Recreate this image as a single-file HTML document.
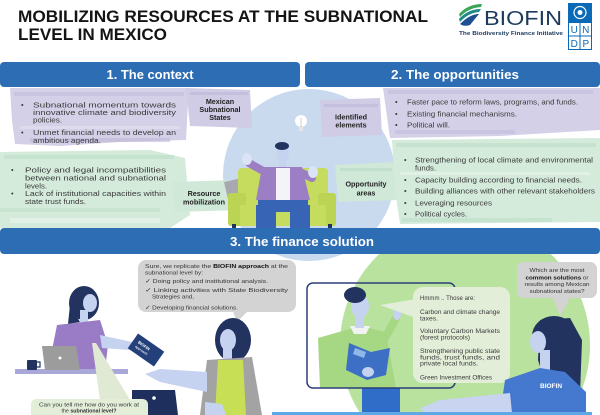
<!DOCTYPE html>
<html><head><meta charset="utf-8"><style>
html,body{margin:0;padding:0;background:#fff;width:600px;height:415px;overflow:hidden;}
svg{display:block;overflow:hidden;}
text{font-family:"Liberation Sans",sans-serif;}
</style></head><body>
<svg width="600" height="415" viewBox="0 0 600 415" xmlns="http://www.w3.org/2000/svg">
<rect width="600" height="415" fill="#fff"/>

<!-- Title -->
<text x="18" y="22" font-size="16.5" font-weight="bold" fill="#141414" textLength="410" lengthAdjust="spacingAndGlyphs">MOBILIZING RESOURCES AT THE SUBNATIONAL</text>
<text x="18" y="40" font-size="16.5" font-weight="bold" fill="#141414" textLength="149" lengthAdjust="spacingAndGlyphs">LEVEL IN MEXICO</text>

<!-- BIOFIN logo -->
<path d="M459 14 Q468 4 482 4 L481 7 Q468 8 460 17 Z" fill="#3aa655"/>
<path d="M459 19 Q468 9 481 9 L479 12 Q468 13 460 22 Z" fill="#1f8a8a"/>
<path d="M460 24 Q470 14 479 14 Q474 20 470 25 Q464 27 460 24 Z" fill="#1d4f93"/>
<text x="484" y="25" font-size="20" fill="#1d3b5c" textLength="78" lengthAdjust="spacingAndGlyphs">BIOFIN</text>
<text x="459" y="35" font-size="5.5" font-weight="bold" fill="#1d3b5c" textLength="104" lengthAdjust="spacingAndGlyphs">The Biodiversity Finance Initiative</text>
<!-- UNDP -->
<rect x="568" y="3" width="24" height="19" fill="#0a6ab8"/>
<circle cx="580" cy="12.5" r="6" fill="none" stroke="#fff" stroke-width="1.2"/>
<circle cx="580" cy="12.5" r="2.5" fill="#fff"/>
<rect x="568.5" y="22.5" width="23" height="27" fill="#fff" stroke="#0a6ab8" stroke-width="1"/>
<line x1="580" y1="22.5" x2="580" y2="49.5" stroke="#0a6ab8" stroke-width="1"/>
<line x1="568.5" y1="36" x2="591.5" y2="36" stroke="#0a6ab8" stroke-width="1"/>
<text x="574.2" y="33" font-size="10" fill="#0a6ab8" text-anchor="middle">U</text>
<text x="585.8" y="33" font-size="10" fill="#0a6ab8" text-anchor="middle">N</text>
<text x="574.2" y="47" font-size="10" fill="#0a6ab8" text-anchor="middle">D</text>
<text x="585.8" y="47" font-size="10" fill="#0a6ab8" text-anchor="middle">P</text>

<!-- Section 1/2 background circle -->
<circle cx="309" cy="175" r="86" fill="#c9daee"/>

<!-- Lavender / green brushed boxes -->
<g>
<polygon points="10,88 190,88 188,102 186,140 120,142 60,146 15,144 12,120" fill="#d4d0e7"/>
<rect x="14" y="92" width="170" height="4" fill="#c2bcdc" opacity="0.6"/>
<rect x="20" y="126" width="160" height="3" fill="#e3e0f0" opacity="0.7"/>
<rect x="30" y="138" width="140" height="4" fill="#bfb8d9" opacity="0.6"/>

<polygon points="186,88 250,90 252,128 190,126" fill="#d1cce5"/>
<rect x="190" y="92" width="58" height="3" fill="#bdb6d8" opacity="0.6"/>

<polygon points="0,152 150,150 185,158 190,215 170,228 0,228" fill="#d4ebdb"/>
<rect x="4" y="155" width="170" height="4" fill="#c0dfca" opacity="0.7"/>
<rect x="0" y="208" width="160" height="4" fill="#c0dfca" opacity="0.6"/>
<rect x="10" y="218" width="150" height="5" fill="#e3f2e8" opacity="0.8"/>

<polygon points="172,182 236,180 240,210 175,212" fill="#cfe8d7"/>

<polygon points="320,100 380,98 382,135 322,137" fill="#d1cce5"/>
<rect x="324" y="104" width="54" height="3" fill="#bdb6d8" opacity="0.6"/>

<polygon points="383,88 600,88 600,130 500,136 390,138" fill="#d4d0e7"/>
<rect x="388" y="90" width="205" height="4" fill="#c2bcdc" opacity="0.6"/>
<rect x="395" y="130" width="120" height="4" fill="#c2bcdc" opacity="0.6"/>

<polygon points="335,165 395,162 398,200 338,202" fill="#cfe8d7"/>
<rect x="340" y="168" width="52" height="3" fill="#bcdcc6" opacity="0.7"/>

<polygon points="392,140 600,138 600,222 400,224 395,190" fill="#d4ebdb"/>
<rect x="396" y="143" width="200" height="4" fill="#c0dfca" opacity="0.7"/>
<rect x="400" y="172" width="190" height="3" fill="#e3f2e8" opacity="0.8"/>
<rect x="402" y="218" width="150" height="4" fill="#c0dfca" opacity="0.7"/>
</g>

<!-- Central figure -->
<g>
<circle cx="301" cy="121" r="6" fill="#fff"/>
<rect x="299" y="126" width="4" height="5" fill="#e6e6e6"/>
<line x1="301" y1="118" x2="301" y2="127" stroke="#bbb" stroke-width="0.7"/>
<polygon points="224,182 242,178 246,196 228,199" fill="#a8a8b0"/>
<rect x="238" y="168" width="90" height="38" rx="4" fill="#c6dc5f"/>
<rect x="228" y="193" width="18" height="33" rx="3" fill="#bcd454"/>
<rect x="318" y="193" width="18" height="33" rx="3" fill="#bcd454"/>
<rect x="240" y="205" width="86" height="21" fill="#c6dc5f"/>
<rect x="232" y="224" width="4" height="4" fill="#22335f"/>
<rect x="328" y="224" width="4" height="4" fill="#22335f"/>
<rect x="258" y="195" width="50" height="17" fill="#3764b4"/>
<rect x="256" y="205" width="20" height="23" fill="#3764b4"/>
<rect x="290" y="205" width="20" height="23" fill="#3764b4"/>
<polygon points="262,167 302,167 310,200 256,200" fill="#9b7ec4"/>
<line x1="265" y1="172" x2="249" y2="163" stroke="#9b7ec4" stroke-width="8" stroke-linecap="round"/>
<line x1="300" y1="172" x2="312" y2="178" stroke="#9b7ec4" stroke-width="8" stroke-linecap="round"/>
<rect x="276" y="168" width="14" height="32" fill="#f4f4f8"/>
<ellipse cx="247" cy="159" rx="5" ry="6" fill="#dbe3f6"/>
<ellipse cx="313" cy="172" rx="5" ry="6" fill="#dbe3f6"/>
<rect x="279" y="158" width="7" height="9" fill="#c5d3f0"/>
<ellipse cx="283" cy="154" rx="6" ry="8" fill="#c5d3f0"/>
<ellipse cx="282" cy="146" rx="7" ry="4" fill="#22335f"/>
</g>

<!-- Context text -->
<g font-size="7.4" fill="#3a3a3a">
<text x="21" y="107.5">•</text>
<text x="33" y="107.5" textLength="143" lengthAdjust="spacingAndGlyphs">Subnational momentum towards</text>
<text x="33" y="115" textLength="143" lengthAdjust="spacingAndGlyphs">innovative climate and biodiversity</text>
<text x="33" y="122.5" textLength="29" lengthAdjust="spacingAndGlyphs">policies.</text>
<text x="21" y="135">•</text>
<text x="33" y="135" textLength="143" lengthAdjust="spacingAndGlyphs">Unmet financial needs to develop an</text>
<text x="33" y="143" textLength="68" lengthAdjust="spacingAndGlyphs">ambitious agenda.</text>

<text x="11" y="172.5">•</text>
<text x="25" y="172.5" textLength="141" lengthAdjust="spacingAndGlyphs">Policy and legal incompatibilities</text>
<text x="25" y="180.5" textLength="141" lengthAdjust="spacingAndGlyphs">between national and subnational</text>
<text x="25" y="188.5" textLength="22" lengthAdjust="spacingAndGlyphs">levels.</text>
<text x="11" y="196">•</text>
<text x="25" y="196" textLength="141" lengthAdjust="spacingAndGlyphs">Lack of institutional capacities within</text>
<text x="25" y="204" textLength="61" lengthAdjust="spacingAndGlyphs">state trust funds.</text>

<text x="395" y="104.5">•</text>
<text x="407" y="104.5" textLength="171" lengthAdjust="spacingAndGlyphs">Faster pace to reform laws, programs, and funds.</text>
<text x="395" y="116.5">•</text>
<text x="407" y="116.5" textLength="110" lengthAdjust="spacingAndGlyphs">Existing financial mechanisms.</text>
<text x="395" y="127.5">•</text>
<text x="407" y="127.5" textLength="43" lengthAdjust="spacingAndGlyphs">Political will.</text>

<text x="404" y="162.5">•</text>
<text x="415" y="162.5" textLength="178" lengthAdjust="spacingAndGlyphs">Strengthening of local climate and environmental</text>
<text x="415" y="170.5" textLength="21" lengthAdjust="spacingAndGlyphs">funds.</text>
<text x="404" y="182.5">•</text>
<text x="415" y="182.5" textLength="167" lengthAdjust="spacingAndGlyphs">Capacity building according to financial needs.</text>
<text x="404" y="193.5">•</text>
<text x="415" y="193.5" textLength="180" lengthAdjust="spacingAndGlyphs">Building alliances with other relevant stakeholders</text>
<text x="404" y="205.5">•</text>
<text x="415" y="205.5" textLength="77" lengthAdjust="spacingAndGlyphs">Leveraging resources</text>
<text x="404" y="216.5">•</text>
<text x="415" y="216.5" textLength="52" lengthAdjust="spacingAndGlyphs">Political cycles.</text>
</g>
<g font-size="7.2" font-weight="bold" fill="#222" text-anchor="middle">
<text x="220" y="104">Mexican</text>
<text x="220" y="112">Subnational</text>
<text x="220" y="120">States</text>
<text x="204" y="196">Resource</text>
<text x="204" y="204.5">mobilization</text>
<text x="351" y="119.5">Identified</text>
<text x="351" y="127.5">elements</text>
<text x="366" y="186.5">Opportunity</text>
<text x="366" y="195.5">areas</text>
</g>

<!-- Header bars -->
<rect x="0" y="62" width="300" height="25" rx="4" fill="#2d6db4"/>
<rect x="305" y="62" width="295" height="25" rx="4" fill="#2d6db4"/>
<text x="150" y="79" font-size="12.5" font-weight="bold" fill="#fff" text-anchor="middle" textLength="87" lengthAdjust="spacingAndGlyphs">1. The context</text>
<text x="455" y="79" font-size="12.5" font-weight="bold" fill="#fff" text-anchor="middle" textLength="128" lengthAdjust="spacingAndGlyphs">2. The opportunities</text>

<!-- Section 3 bar -->
<rect x="0" y="228" width="600" height="26" rx="4" fill="#2d6db4"/>
<text x="302" y="246" font-size="12.5" font-weight="bold" fill="#fff" text-anchor="middle" textLength="144" lengthAdjust="spacingAndGlyphs">3. The finance solution</text>

<!-- Section 3: right green blob (circle segment within frame) -->
<path d="M379.3 254 A125 125 0 0 0 361.4 415 L568.6 415 A125 125 0 0 0 550.7 254 Z" fill="#b8e29d"/>
<g>
<polygon points="318,338 360,326 386,332 396,388 320,388" fill="#a6d884"/>
<polygon points="350,326 370,326 366,334 354,334" fill="#f2f2f2"/>
<rect x="355" y="312" width="9" height="16" fill="#c5d3f0"/>
<ellipse cx="360" cy="306" rx="9" ry="12" fill="#c5d3f0"/>
<ellipse cx="355" cy="295" rx="11" ry="8" fill="#22335f"/>
<line x1="384" y1="340" x2="396" y2="318" stroke="#a6d884" stroke-width="8" stroke-linecap="round"/>
<ellipse cx="397" cy="314" rx="4" ry="6" fill="#c5d3f0"/>
<polygon points="349,343 371,352 390,348 386,375 367,380 346,370" fill="#3d6fc4"/>
<polygon points="355,348 366,352 364,358 353,354" fill="#8fb7e8"/>
<ellipse cx="368" cy="372" rx="6" ry="5" fill="#c5d3f0"/>
<rect x="362" y="388" width="38" height="27" fill="#2f6dc8"/>
</g>
<rect x="307" y="283" width="148" height="105" rx="6" fill="none" stroke="#2a3f7a" stroke-width="1.5"/>

<!-- Green speech bubble -->
<polygon points="416,299 380,305 416,318" fill="#e3eed9"/>
<rect x="413" y="287" width="97" height="96" rx="10" fill="#e3eed9"/>
<g font-size="6" fill="#3a3a3a">
<text x="420" y="300" textLength="55" lengthAdjust="spacingAndGlyphs">Hmmm .. Those are:</text>
<text x="420" y="314" textLength="80" lengthAdjust="spacingAndGlyphs">Carbon and climate change</text>
<text x="420" y="320.5" textLength="18" lengthAdjust="spacingAndGlyphs">taxes.</text>
<text x="420" y="333" textLength="80" lengthAdjust="spacingAndGlyphs">Voluntary Carbon Markets</text>
<text x="420" y="339.5" textLength="50" lengthAdjust="spacingAndGlyphs">(forest protocols)</text>
<text x="420" y="352.8" textLength="80" lengthAdjust="spacingAndGlyphs">Strengthening public state</text>
<text x="420" y="359.6" textLength="80" lengthAdjust="spacingAndGlyphs">funds, trust funds, and</text>
<text x="420" y="365.5" textLength="58" lengthAdjust="spacingAndGlyphs">private local funds.</text>
<text x="420" y="379.5" textLength="72" lengthAdjust="spacingAndGlyphs">Green Investment Offices</text>
</g>

<!-- Gray bubble top right -->
<polygon points="552,296 560,316 571,296" fill="#d3d3d3"/>
<rect x="517" y="262" width="80" height="36" rx="7" fill="#d3d3d3"/>
<g font-size="5.8" fill="#333" text-anchor="middle">
<text x="557" y="272" textLength="55" lengthAdjust="spacingAndGlyphs">Which are the most</text>
<text x="557" y="279.5" textLength="63" lengthAdjust="spacingAndGlyphs"><tspan font-weight="bold" fill="#111">common solutions</tspan> or</text>
<text x="557" y="286" textLength="65" lengthAdjust="spacingAndGlyphs">results among Mexican</text>
<text x="557" y="292.8" textLength="55" lengthAdjust="spacingAndGlyphs">subnational states?</text>
</g>

<!-- Right woman -->
<g>
<polygon points="540,320 570,318 582,340 580,395 548,392 538,360" fill="#22335f"/>
<ellipse cx="554" cy="336" rx="22" ry="20" fill="#22335f"/>
<ellipse cx="538" cy="342" rx="8" ry="11" fill="#c5d3f0"/>
<rect x="540" y="350" width="10" height="20" fill="#c5d3f0"/>
<polygon points="505,380 540,368 565,372 586,392 586,415 500,415" fill="#4579d0"/>
<text x="540" y="388" font-size="6.5" font-weight="bold" fill="#fff">BIOFIN</text>
<polygon points="510,393 440,400 420,408 425,413 512,413" fill="#c8d4f0"/>
</g>
<rect x="272" y="412" width="320" height="3" fill="#5fa8e6"/>

<!-- Left scene -->
<g>
<polygon points="232,309 237,322 250,309" fill="#d3d3d3"/>
<rect x="138" y="260" width="158" height="52" rx="8" fill="#d3d3d3"/>
<g font-size="5.8" fill="#333">
<text x="145" y="268" textLength="143" lengthAdjust="spacingAndGlyphs">Sure,  we replicate the <tspan font-weight="bold" fill="#111">BIOFIN approach</tspan> at the</text>
<text x="145" y="274.5" textLength="58" lengthAdjust="spacingAndGlyphs">subnational level by:</text>
<text x="145" y="283" textLength="123" lengthAdjust="spacingAndGlyphs">✓ Doing policy and institutional analysis.</text>
<text x="145" y="292" textLength="143" lengthAdjust="spacingAndGlyphs">✓ Linking activities with State Biodiversity</text>
<text x="152" y="298.7" textLength="42" lengthAdjust="spacingAndGlyphs">Strategies and,</text>
<text x="145" y="309.7" textLength="93" lengthAdjust="spacingAndGlyphs">✓ Developing financial solutions.</text>
</g>

<ellipse cx="84" cy="303" rx="15" ry="17" fill="#22335f"/>
<polygon points="70,305 68,324 80,322" fill="#22335f"/>
<ellipse cx="90" cy="303" rx="7" ry="9" fill="#c5d3f0"/>
<rect x="80" y="310" width="8" height="12" fill="#c5d3f0"/>
<polygon points="57,325 100,320 108,345 105,370 62,371 52,350" fill="#9a7cc6"/>
<polygon points="100,335 132,342 130,350 102,348" fill="#c5d3f0"/>
<rect x="15" y="369" width="113" height="5" fill="#a9a8d8"/>
<polygon points="42,346 76,346 80,370 45,370" fill="#9c9c9c"/>
<circle cx="60" cy="358" r="1.5" fill="#fff"/>
<rect x="27" y="360" width="10" height="10" rx="1" fill="#22335f"/>
<path d="M37 362 h3 v5 h-3" fill="none" stroke="#22335f" stroke-width="1.2"/>
<g transform="rotate(35 146 350)">
<rect x="130" y="341" width="32" height="18" fill="#24407a"/>
<text x="135" y="349" font-size="4" font-weight="bold" fill="#fff">BIOFIN</text>
<text x="135" y="354" font-size="3.5" fill="#fff">approach</text>
</g>
<polygon points="132,390 175,390 178,415 132,415" fill="#1e2f5e"/>
<circle cx="154" cy="398" r="1.8" fill="#fff"/>
<polygon points="92,343 96,343 130,400 100,400" fill="#dfe9d3"/>
<path d="M31 415 V405 Q31 399 37 399 H142 Q148 399 148 405 V415 Z" fill="#e3eed9"/>
<text x="89" y="406.5" font-size="5.8" fill="#333" text-anchor="middle" textLength="100" lengthAdjust="spacingAndGlyphs">Can you tell me how do you work at</text>
<text x="89" y="412.5" font-size="5.3" fill="#333" text-anchor="middle">the <tspan font-weight="bold">subnational level?</tspan></text>

<ellipse cx="233" cy="340" rx="18" ry="22" fill="#22335f"/>
<ellipse cx="228" cy="340" rx="8" ry="11" fill="#c5d3f0"/>
<rect x="223" y="348" width="9" height="12" fill="#c5d3f0"/>
<polygon points="207,360 252,357 262,415 200,415" fill="#a3a3a3"/>
<polygon points="218,360 243,360 246,415 215,415" fill="#c6df55"/>
<polygon points="207,372 160,369 145,374 160,382 207,392" fill="#c5d3f0"/>
<polygon points="205,402 222,404 226,415 205,415" fill="#c5d3f0"/>
</g>
</svg>
</body></html>
